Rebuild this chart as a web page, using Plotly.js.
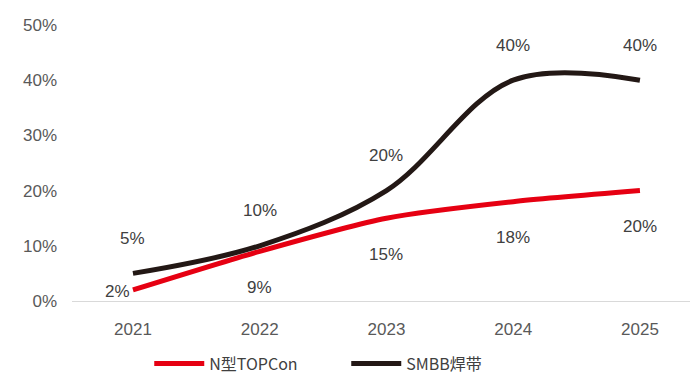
<!DOCTYPE html>
<html><head><meta charset="utf-8">
<script src="https://cdn.plot.ly/plotly-3.0.1.min.js"></script>
<style>html,body{margin:0;padding:0;background:#fff}#c{width:691px;height:374px}</style>
</head><body><div id="c"></div>
<script>
const years = ['2021','2022','2023','2024','2025'];
const topcon = [2, 9, 15, 18, 20];
const smbb = [5, 10, 20, 40, 40];
const topconName = 'N型TOPCon';
const smbbName = 'SMBB焊带';
const yTicks = [0, 10, 20, 30, 40, 50];

const red = '#e60012', black = '#231815';
const traces = [
  {x: years, y: topcon, name: topconName, mode: 'lines', line: {color: red, width: 5, shape: 'spline', smoothing: 0.6}},
  {x: years, y: smbb, name: smbbName, mode: 'lines', line: {color: black, width: 5, shape: 'spline', smoothing: 1.0}}
];
const annotations = [];
const lblFont = {family: 'Liberation Sans, Arial, sans-serif', size: 17, color: '#404040'};
years.forEach((yr, i) => {
  annotations.push({xref: 'x', yref: 'y', x: i, y: smbb[i], text: smbb[i] + '%', showarrow: false, yshift: 35, font: lblFont});
  annotations.push({xref: 'x', yref: 'y', x: i, y: topcon[i], text: topcon[i] + '%', showarrow: false,
    yshift: i === 0 ? -2 : -36, xshift: i === 0 ? -15 : 0, font: lblFont});
});
const layout = {
  width: 691, height: 374,
  margin: {l: 72, r: 1, t: 25, b: 73, autoexpand: false},
  paper_bgcolor: '#fff', plot_bgcolor: '#fff',
  showlegend: true,
  legend: {orientation: 'h', x: 0.125, y: -0.165, xanchor: 'left', yanchor: 'top',
    font: {family: 'Noto Sans CJK SC, sans-serif', size: 16, color: '#404040'}, itemwidth: 50,
    entrywidth: 132, entrywidthmode: 'pixels', tracegroupgap: 0},
  xaxis: {type: 'category', range: [-0.481, 4.395], showgrid: false, zeroline: false,
    showline: true, linecolor: '#d9d9d9', linewidth: 1, ticks: '',
    tickfont: {family: 'Liberation Sans, Arial, sans-serif', size: 17, color: '#595959'}, ticklabelstandoff: 13},
  yaxis: {range: [0, 50], tickvals: yTicks, ticktext: yTicks.map(v => v + '%'), showgrid: false, zeroline: false,
    showline: false, ticks: '', ticklabelstandoff: 14,
    tickfont: {family: 'Liberation Sans, Arial, sans-serif', size: 17, color: '#595959'}},
  annotations: annotations
};
Plotly.newPlot('c', traces, layout, {displayModeBar: false, staticPlot: true});
</script></body></html>
